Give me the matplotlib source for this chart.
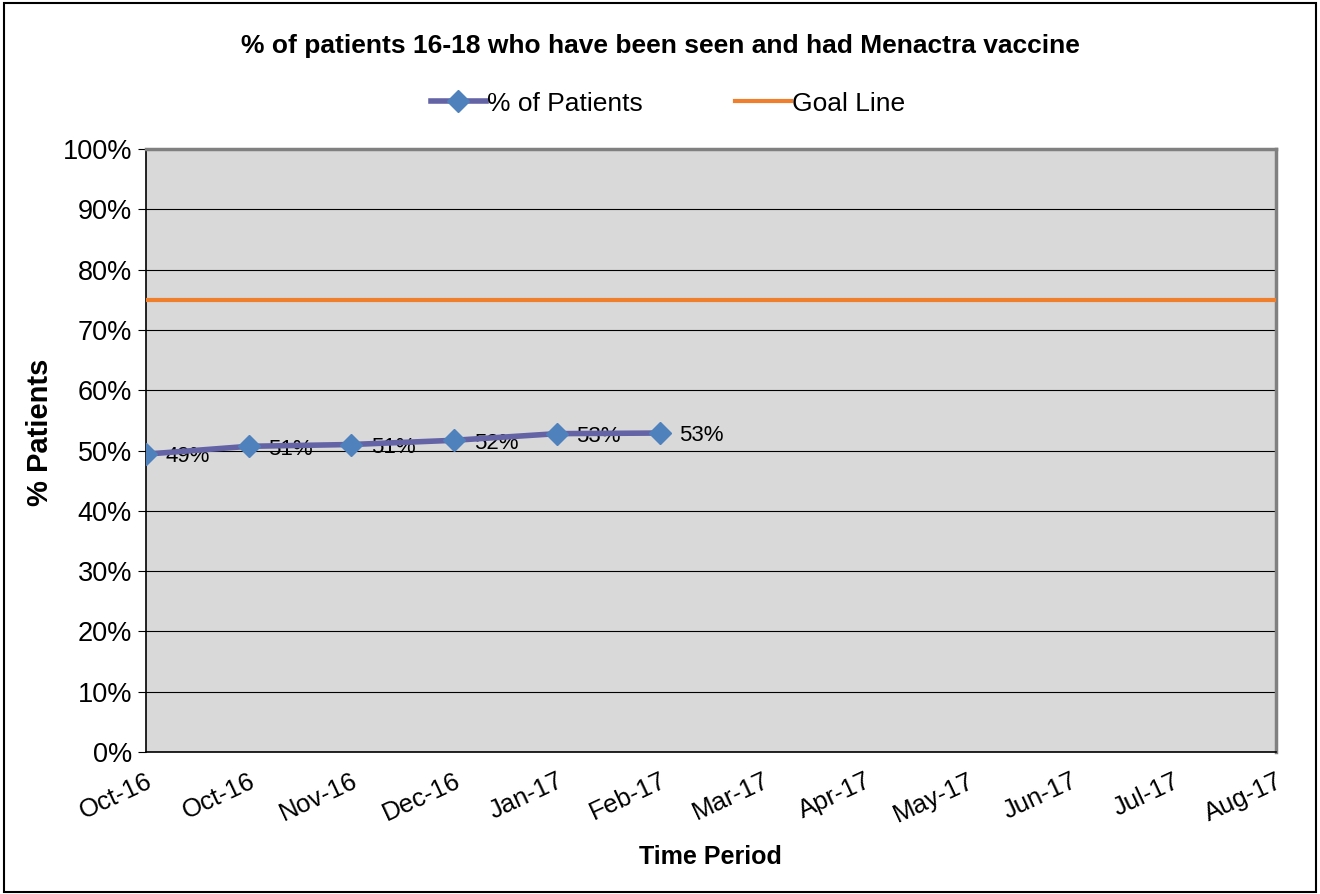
import matplotlib.pyplot as plt
from matplotlib.patches import Rectangle

plt.rcParams['font.family'] = ['Liberation Sans', 'DejaVu Sans']

months = ['Oct-16', 'Oct-16', 'Nov-16', 'Dec-16', 'Jan-17', 'Feb-17',
          'Mar-17', 'Apr-17', 'May-17', 'Jun-17', 'Jul-17', 'Aug-17']
pct_patients = [49.4, 50.7, 51.0, 51.7, 52.8, 52.9]
pct_labels = ['49%', '51%', '51%', '52%', '53%', '53%']
goal = [75] * len(months)

fig = plt.figure(figsize=(13.2, 8.94), dpi=100)
ax = fig.add_axes([0.1106, 0.1588, 0.8561, 0.6745])
ax.set_facecolor('#D9D9D9')

x_all = list(range(len(months)))
x_pat = x_all[:len(pct_patients)]

ax.plot(x_all, goal, color='#F07F2D', lw=3, label='Goal Line', zorder=3)
ax.plot(x_pat, pct_patients, color='#6363A6', lw=4, marker='D', ms=11,
        mfc='#4F81BD', mec='#4F81BD', label='% of Patients', zorder=4)

for xi, yi, lab in zip(x_pat, pct_patients, pct_labels):
    ax.annotate(lab, (xi, yi), xytext=(14, -2), textcoords='offset points',
                ha='left', va='center', fontsize=16)

ax.set_xlim(0, len(months) - 1)
ax.set_ylim(0, 100)
ax.set_yticks(range(0, 101, 10))
ax.set_yticklabels(['%d%%' % v for v in range(0, 101, 10)], fontsize=19.5)
ax.set_xticks(x_all)
ax.set_xticklabels(months, fontsize=18.5, rotation=25, ha='right',
                   rotation_mode='anchor')
ax.tick_params(axis='x', length=0, pad=12)
ax.tick_params(axis='y', direction='out', length=6, color='black', pad=4)
ax.yaxis.grid(True, color='black', lw=0.8)
ax.set_axisbelow(True)

for side in ['top', 'right']:
    ax.spines[side].set_color('#808080')
    ax.spines[side].set_linewidth(2.5)
for side in ['left', 'bottom']:
    ax.spines[side].set_color('black')
    ax.spines[side].set_linewidth(1.2)

fig.text(0.030, 0.516, '% Patients', rotation=90, ha='center', va='center',
         fontsize=21, fontweight='bold')
fig.text(0.538, 0.041, 'Time Period', ha='center', va='center',
         fontsize=18, fontweight='bold')

fig.text(0.5, 0.949, '% of patients 16-18 who have been seen and had Menactra vaccine',
         ha='center', va='center', fontsize=19, fontweight='bold')

h, l = ax.get_legend_handles_labels()
fig.legend(h[::-1], l[::-1], loc='center', bbox_to_anchor=(0.506, 0.884), ncol=2,
           frameon=False, fontsize=19, handlelength=2.1, columnspacing=3.5,
           handletextpad=0.05)

fig.patches.append(Rectangle((0.003, 0.002), 0.994, 0.995, transform=fig.transFigure,
                             fill=False, edgecolor='black', lw=1.5))

fig.savefig('out.png', dpi=100)
